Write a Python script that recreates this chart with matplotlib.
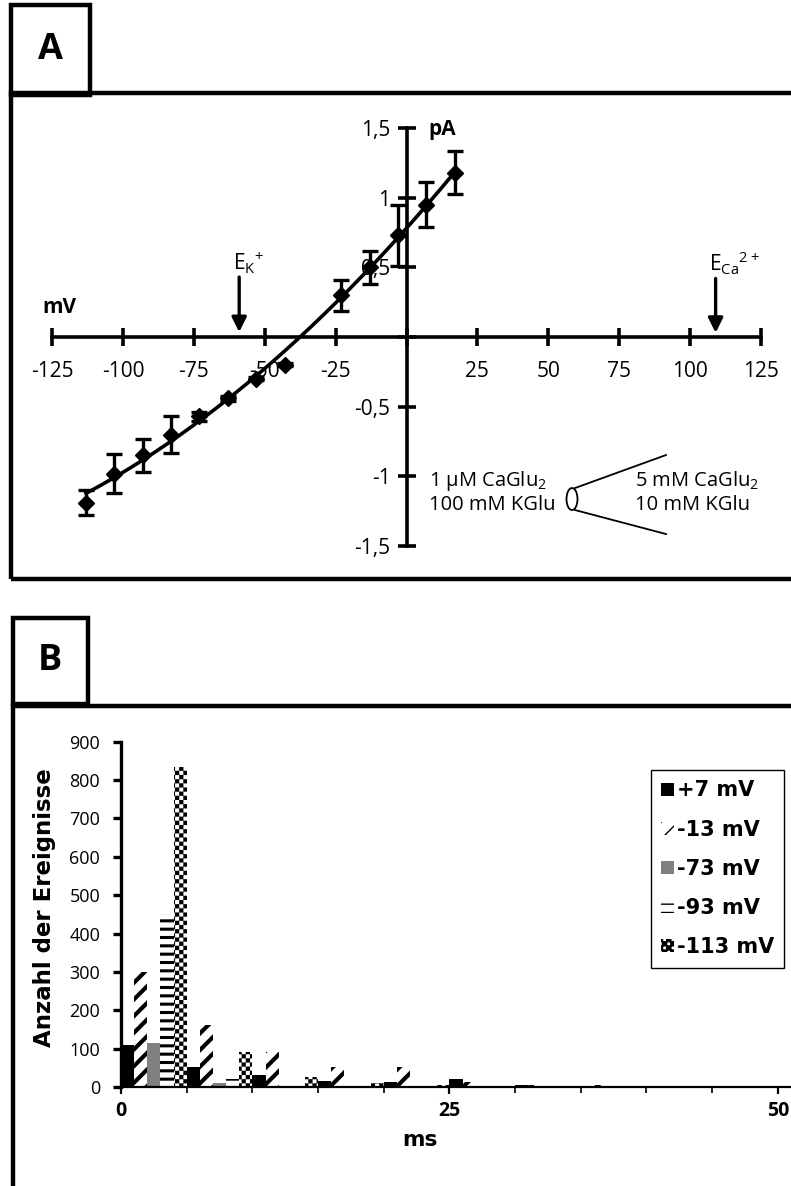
import warnings
import numpy as np
import matplotlib
matplotlib.use("Agg")
import matplotlib.pyplot as plt
import matplotlib.hatch as mhatch
from matplotlib.path import Path
from matplotlib.patches import Rectangle, Ellipse, Patch

warnings.filterwarnings("ignore")

# ---------------- data ----------------
# Panel A: single-channel current-voltage relation
voltage_mv = [-113, -103, -93, -83, -73, -63, -53, -43, -23, -13, -3, 7, 17]
current_pa = [-1.19, -0.98, -0.85, -0.70, -0.57, -0.44, -0.30, -0.20,
              0.30, 0.50, 0.73, 0.95, 1.18]
current_err = [0.09, 0.14, 0.12, 0.13, 0.03, 0.02, 0.01, 0.01,
               0.11, 0.12, 0.22, 0.16, 0.155]
x_ticks_a = [-125, -100, -75, -50, -25, 0, 25, 50, 75, 100, 125]
x_ticklabels_a = ["-125", "-100", "-75", "-50", "-25", "", "25", "50", "75", "100", "125"]
y_ticks_a = [-1.5, -1.0, -0.5, 0.0, 0.5, 1.0, 1.5]
y_ticklabels_a = ["-1,5", "-1", "-0,5", "", "0,5", "1", "1,5"]
reversal_k_mv = -59
reversal_ca_mv = 109

# Panel B: open-time histograms (5 ms bins) at five holding potentials
bin_start_ms = [0, 5, 10, 15, 20, 25, 30, 35, 40, 45]
series_labels = ["+7 mV", "-13 mV", "-73 mV", "-93 mV", "-113 mV"]
counts_p7 = [110, 52, 30, 15, 12, 20, 4, 3, 3, 2]
counts_m13 = [300, 162, 92, 52, 52, 12, 4, 4, 3, 3]
counts_m73 = [115, 10, 0, 0, 0, 0, 0, 0, 0, 0]
counts_m93 = [450, 20, 2, 0, 0, 0, 0, 0, 0, 0]
counts_m113 = [835, 92, 25, 10, 5, 3, 3, 3, 2, 2]
x_ticks_b = [0, 25, 50]
y_ticks_b = list(range(0, 1000, 100))


# ---------------- checkerboard hatch ----------------
class CheckerHatch(mhatch.HatchPatternBase):
    """Filled checkerboard squares, selected with the 'c' hatch character."""

    def __init__(self, hatch, density):
        self.num_cells = hatch.count("c") * density
        self.num_vertices = 10 * self.num_cells ** 2

    def set_vertices_and_codes(self, vertices, codes):
        n = self.num_cells
        s = 1.0 / n
        h = s / 2.0
        k = 0
        for i in range(n):
            for j in range(n):
                for ox, oy in ((0.0, 0.0), (h, h)):
                    x0, y0 = i * s + ox, j * s + oy
                    vertices[k:k + 5] = [(x0, y0), (x0 + h, y0), (x0 + h, y0 + h),
                                         (x0, y0 + h), (x0, y0)]
                    codes[k:k + 5] = [Path.MOVETO, Path.LINETO, Path.LINETO,
                                      Path.LINETO, Path.CLOSEPOLY]
                    k += 5


mhatch._hatch_types.append(CheckerHatch)

plt.rcParams["font.family"] = ["Open Sans", "DejaVu Sans"]
plt.rcParams["mathtext.default"] = "regular"

W, H = 791, 1186
fig = plt.figure(figsize=(W / 100, H / 100), dpi=100)


def fx(px):
    return px / W


def fy(py):
    return 1 - py / H


# ---------------- frames and panel letters ----------------
frame_kw = dict(fill=False, lw=3.2, edgecolor="black", transform=fig.transFigure)
fig.add_artist(Rectangle((fx(11), fy(579)), 1.0, fy(93) - fy(579), **frame_kw))
fig.add_artist(Rectangle((fx(11), fy(95)), fx(90) - fx(11), fy(5) - fy(95), **frame_kw))
fig.add_artist(Rectangle((fx(13), fy(1195)), 1.0, fy(706) - fy(1195), **frame_kw))
fig.add_artist(Rectangle((fx(13), fy(704)), fx(88) - fx(13), fy(618) - fy(704), **frame_kw))
fig.text(fx(50), fy(50), "A", fontsize=26, fontweight="bold", ha="center", va="center")
fig.text(fx(50), fy(661), "B", fontsize=26, fontweight="bold", ha="center", va="center")

# ---------------- panel A ----------------
axA = fig.add_axes([fx(52), fy(546), fx(761) - fx(52), fy(128) - fy(546)])
axA.set_xlim(-125, 125)
axA.set_ylim(-1.5, 1.5)
axA.patch.set_visible(False)
for side in ("top", "right"):
    axA.spines[side].set_visible(False)
axA.spines["left"].set_position(("data", 0))
axA.spines["bottom"].set_position(("data", 0))
for side in ("left", "bottom"):
    axA.spines[side].set_linewidth(2.6)
axA.set_axisbelow(True)
axA.set_xticks(x_ticks_a)
axA.set_xticklabels(x_ticklabels_a)
axA.set_yticks(y_ticks_a)
axA.set_yticklabels(y_ticklabels_a)
axA.tick_params(axis="both", direction="inout", length=13, width=2.6, labelsize=15)
axA.tick_params(axis="x", pad=11)
axA.tick_params(axis="y", pad=5)

coef = np.polyfit(voltage_mv, current_pa, 2)
v_fit = np.linspace(min(voltage_mv), max(voltage_mv), 200)
axA.plot(v_fit, np.polyval(coef, v_fit), color="black", lw=2.6, zorder=3)
axA.errorbar(voltage_mv, current_pa, yerr=current_err, fmt="D", ms=8, color="black",
             ecolor="black", elinewidth=2.4, capsize=6, capthick=2.4, zorder=4)

axA.text(-128.5, 0.21, "mV", fontsize=15, fontweight="bold", ha="left", va="center")
axA.text(7.8, 1.49, "pA", fontsize=15, fontweight="bold", ha="left", va="center")

arrow_kw = dict(arrowstyle="-|>", lw=2.4, color="black", mutation_scale=22, shrinkA=0, shrinkB=0)
axA.annotate("", xy=(reversal_k_mv, 0.035), xytext=(reversal_k_mv, 0.43), arrowprops=arrow_kw)
axA.annotate("", xy=(reversal_ca_mv, 0.03), xytext=(reversal_ca_mv, 0.42), arrowprops=arrow_kw)
axA.text(reversal_k_mv - 2.3, 0.53, r"$E_{K}{}^{+}$", fontsize=15, ha="left", va="center")
axA.text(reversal_ca_mv - 2.2, 0.53, r"$E_{Ca}{}^{2+}$", fontsize=15, ha="left", va="center")


# pipette solutions sketch
def px2dA(px, py):
    return ((px - 406.5) / 2.836, (337 - py) / 139.3)


for (px, py), txt in (((429, 481), "1 µM CaGlu$_2$"), ((429, 505), "100 mM KGlu"),
                      ((635, 481), "5 mM CaGlu$_2$"), ((635, 505), "10 mM KGlu")):
    axA.text(*px2dA(px, py), txt, fontsize=14.5, ha="left", va="center")
cx, cy = px2dA(572, 499)
axA.add_patch(Ellipse((cx, cy), 11 / 2.836, 22 / 139.3, fill=False, lw=1.3, color="black"))
for (p0, p1) in (((575, 488), (666, 455)), ((575, 510), (666, 534))):
    a, b = px2dA(*p0), px2dA(*p1)
    axA.plot([a[0], b[0]], [a[1], b[1]], color="black", lw=1.3)

# ---------------- panel B ----------------
axB = fig.add_axes([fx(121), fy(1087), fx(791) - fx(121), fy(741.7) - fy(1087)])
axB.set_xlim(0, 51)
axB.set_ylim(0, 900)
for side in ("top", "right"):
    axB.spines[side].set_visible(False)
axB.spines["left"].set_linewidth(2.4)
axB.spines["bottom"].set_linewidth(1.6)

series_counts = [counts_p7, counts_m13, counts_m73, counts_m93, counts_m113]
series_style = [
    dict(facecolor="black", hatch=None, hlw=1.0),
    dict(facecolor="white", hatch="//", hlw=3.0),
    dict(facecolor="#808080", hatch=None, hlw=1.0),
    dict(facecolor="white", hatch="--", hlw=2.2),
    dict(facecolor="white", hatch="cc", hlw=0.1),
]
handles = []
bar_w = 1.0
for i, (counts, st) in enumerate(zip(series_counts, series_style)):
    pos = [b + (i + 0.5) * bar_w for b in bin_start_ms]
    with plt.rc_context({"hatch.linewidth": st["hlw"]}):
        bars = axB.bar(pos, counts, width=bar_w, facecolor=st["facecolor"],
                       edgecolor="black", linewidth=0, hatch=st["hatch"], zorder=2)
        for bar in bars:
            if hasattr(bar, "set_hatch_linewidth"):
                bar.set_hatch_linewidth(st["hlw"])
        h = Patch(facecolor=st["facecolor"], edgecolor="black", linewidth=0,
                  hatch=st["hatch"], label=series_labels[i])
        if hasattr(h, "set_hatch_linewidth"):
            h.set_hatch_linewidth(st["hlw"])
    handles.append(h)

axB.set_yticks(y_ticks_b)
axB.set_xticks(x_ticks_b)
axB.set_xticks(bin_start_ms, minor=True)
axB.tick_params(axis="y", direction="out", length=6, width=2.4, labelsize=13, pad=9)
axB.tick_params(axis="x", which="major", direction="out", length=5, width=1.6, pad=5)
axB.tick_params(axis="x", which="minor", direction="out", length=4, width=1.2)
for lab in axB.get_xticklabels():
    lab.set_fontweight("bold")
    lab.set_fontsize(14)
axB.set_ylabel("Anzahl der Ereignisse", fontsize=16.5, fontweight="bold",
               fontfamily="DejaVu Sans")
axB.yaxis.set_label_coords(-0.097, 0.52)
axB.set_xlabel("ms", fontsize=15.5, fontweight="bold", fontfamily="DejaVu Sans")
axB.xaxis.set_label_coords(0.446, -0.125)

leg = fig.legend(handles=handles, loc="upper left", bbox_to_anchor=(fx(651), fy(770)),
                 bbox_transform=fig.transFigure, borderaxespad=0, frameon=True,
                 fancybox=False, edgecolor="black", framealpha=1,
                 prop=dict(family="DejaVu Sans", weight="bold", size=15),
                 handlelength=0.58, handleheight=0.58, handletextpad=0.15,
                 labelspacing=0.92, borderpad=0.5)
leg.get_frame().set_linewidth(1.0)

fig.savefig("out.png", dpi=100)
